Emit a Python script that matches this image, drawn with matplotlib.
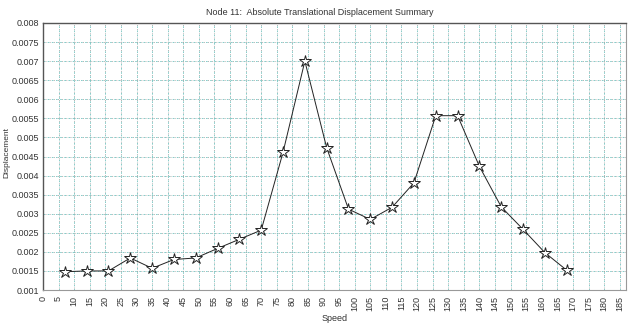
import numpy as np
import matplotlib.pyplot as plt

plt.rcParams['font.family'] = ['Liberation Sans', 'DejaVu Sans']

# Speed steps and node 11 displacement
speed = [7, 14, 21, 28, 35, 42, 49, 56, 63, 70, 77, 84,
         91, 98, 105, 112, 119, 126, 133, 140, 147, 154, 161, 168]
displacement = [0.00148, 0.0015, 0.0015, 0.00184, 0.00157, 0.0018, 0.00184, 0.00209,
                0.00233, 0.00257, 0.00461, 0.0070, 0.00473, 0.00312, 0.00285, 0.00317,
                0.00381, 0.00557, 0.00557, 0.00424, 0.00318, 0.00259, 0.00198, 0.00152]

x_ticks = np.arange(0, 190, 5)
y_ticks = np.arange(0.001, 0.00801, 0.0005)
y_labels = ['0.001', '0.0015', '0.002', '0.0025', '0.003', '0.0035', '0.004', '0.0045',
            '0.005', '0.0055', '0.006', '0.0065', '0.007', '0.0075', '0.008']

fig = plt.figure(figsize=(6.4, 3.27), dpi=100)
ax = fig.add_axes([0.0672, 0.1131, 0.9108, 0.8166])

ax.set_xlim(0, 187)
ax.set_ylim(0.001, 0.008)
ax.set_xticks(x_ticks)
ax.set_xticklabels([str(v) for v in x_ticks], rotation=90, fontsize=6.5, color='#333333')
ax.set_yticks(y_ticks)
ax.set_yticklabels(y_labels, fontsize=6.5, color='#333333')
ax.tick_params(length=0)
ax.tick_params(axis='x', pad=4)
ax.tick_params(axis='y', pad=3)

# two-tone dotted grid
for xv in x_ticks[1:]:
    ax.axvline(xv, color='#72c4c0', lw=0.6, ls=(0, (2, 3)), zorder=1)
    ax.axvline(xv, color='#9a9a9a', lw=0.6, ls=(2.5, (1, 4)), zorder=1)
for yv in y_ticks[1:-1]:
    ax.axhline(yv, color='#72c4c0', lw=0.6, ls=(0, (2, 3)), zorder=1)
    ax.axhline(yv, color='#9a9a9a', lw=0.6, ls=(2.5, (1, 4)), zorder=1)

ax.plot(speed, displacement, color='#222222', lw=0.7, zorder=3)
ax.plot(speed, displacement, ls='none', marker='*', markersize=9,
        markerfacecolor='white', markeredgecolor='#222222', markeredgewidth=0.7, zorder=4)

for side in ['left', 'top']:
    ax.spines[side].set_color('#555555')
    ax.spines[side].set_linewidth(1.0)
for side in ['right', 'bottom']:
    ax.spines[side].set_color('#999999')
    ax.spines[side].set_linewidth(0.8)

fig.text(0.5, 0.963, 'Node 11:  Absolute Translational Displacement Summary',
         ha='center', va='center', fontsize=6.5, color='#333333')
fig.text(0.523, 0.027, 'Speed', ha='center', va='center', fontsize=6.5, color='#333333')
fig.text(0.011, 0.535, 'Displacement', ha='center', va='center', rotation=90,
         fontsize=6, color='#333333')

fig.savefig('out.png', dpi=100)
